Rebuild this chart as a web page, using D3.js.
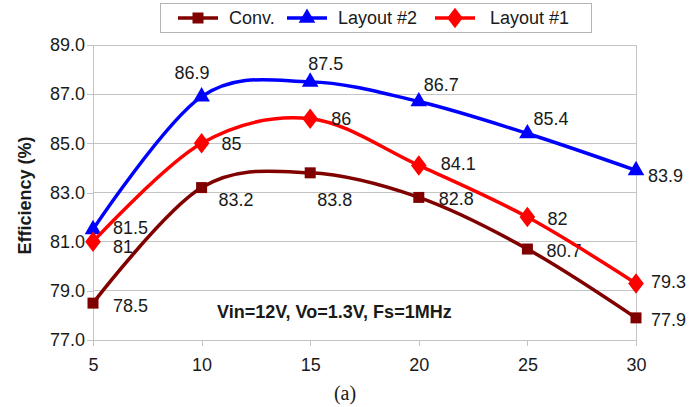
<!DOCTYPE html>
<html>
<head>
<meta charset="utf-8">
<script src="https://cdn.jsdelivr.net/npm/d3@7"></script>
<style>
  html, body { margin: 0; padding: 0; background: #fff; }
  svg { display: block; }
  text { font-family: "Liberation Sans", Arial, sans-serif; fill: #1a1a1a; }
</style>
</head>
<body>
<svg id="chart" width="700" height="407"></svg>
<script>
// Output current (A) on the x axis
const currents = [5, 10, 15, 20, 25, 30];
// Efficiency (%) for each design
const convValues    = [78.5, 83.2, 83.8, 82.8, 80.7, 77.9];
const layout2Values = [81.5, 86.9, 87.5, 86.7, 85.4, 83.9];
const layout1Values = [81.0, 85.0, 86.0, 84.1, 82.0, 79.3];
const seriesNames = ["Conv.", "Layout #2", "Layout #1"];
const yTickValues = [77, 79, 81, 83, 85, 87, 89];
const xTickValues = [5, 10, 15, 20, 25, 30];
const noteText = "Vin=12V, Vo=1.3V, Fs=1MHz";
const captionText = "(a)";
const yTitle = "Efficiency (%)";

// value label offsets from each marker, [dx, dy]
const labelOffsets = {
  "Conv.":     [[20, 3], [17, 12], [7, 27], [20, 2], [19, 2], [15, 2]],
  "Layout #2": [[20, -1], [-27, -24], [-2, -18], [5, -17], [6, -15], [12, 6]],
  "Layout #1": [[20, 5], [20, 1], [21, 0], [22, -1], [20, 2], [15, -1]]
};

const styles = {
  "Conv.":     { color: "#800000", marker: "square" },
  "Layout #2": { color: "#0000ff", marker: "triangle" },
  "Layout #1": { color: "#ff0000", marker: "diamond" }
};

const seriesValues = [convValues, layout2Values, layout1Values];
const series = seriesNames.map((name, i) => ({
  name,
  points: currents.map((c, j) => ({ x: c, y: seriesValues[i][j], i: j }))
}));

const svg = d3.select("#chart");
const plotLeft = 93, plotRight = 636, plotTop = 45, plotBottom = 340;

const x = d3.scaleLinear().domain([5, 30]).range([plotLeft, plotRight]);
const y = d3.scaleLinear().domain([77, 89]).range([plotBottom, plotTop]);

const gridColor = "#c4c4c4";

// horizontal gridlines
svg.append("g").selectAll("line").data(yTickValues).join("line")
  .attr("x1", plotLeft).attr("x2", plotRight)
  .attr("y1", d => y(d)).attr("y2", d => y(d))
  .attr("stroke", gridColor).attr("stroke-width", 1)
  .attr("shape-rendering", "crispEdges");

// right border of the plot area
svg.append("line")
  .attr("x1", plotRight).attr("x2", plotRight).attr("y1", plotTop).attr("y2", plotBottom)
  .attr("stroke", gridColor).attr("shape-rendering", "crispEdges");

// axes
const xAxis = d3.axisBottom(x).tickValues(xTickValues).tickSize(6).tickPadding(12)
  .tickFormat(d3.format("d"));
const yAxis = d3.axisLeft(y).tickValues(yTickValues).tickSize(6).tickPadding(2)
  .tickFormat(d3.format(".1f"));

const gx = svg.append("g").attr("transform", `translate(0,${plotBottom})`).call(xAxis);
const gy = svg.append("g").attr("transform", `translate(${plotLeft},0)`).call(yAxis);
[gx, gy].forEach(g => {
  g.selectAll("path, line").attr("stroke", gridColor).attr("shape-rendering", "crispEdges");
  g.selectAll("text").style("font-size", "18px").attr("fill", "#1a1a1a");
});
gx.select(".domain").attr("d", `M${plotLeft},0H${plotRight}`);
gy.select(".domain").attr("d", `M0,${plotTop}V${plotBottom}`);

// y-axis title
svg.append("text")
  .attr("transform", `translate(31,${(plotTop + plotBottom) / 2 + 3}) rotate(-90)`)
  .attr("text-anchor", "middle")
  .style("font-size", "18px").style("font-weight", "bold")
  .text(yTitle);

// condition note inside the plot
svg.append("text")
  .attr("x", 217).attr("y", 318)
  .style("font-size", "18px").style("font-weight", "bold")
  .text(noteText);

// caption under the axis
svg.append("text")
  .attr("x", 345).attr("y", 400)
  .attr("text-anchor", "middle")
  .style("font-family", "'Liberation Serif', 'Times New Roman', serif")
  .style("font-size", "20px")
  .text(captionText);

// marker symbol generators
const symbolFor = {
  square:   d3.symbol().type(d3.symbolSquare).size(121),
  triangle: d3.symbol().type(d3.symbolTriangle).size(120),
  diamond:  d3.symbol().type(d3.symbolDiamond).size(160)
};

const line = d3.line()
  .x(d => x(d.x)).y(d => y(d.y))
  .curve(d3.curveCardinal.tension(0));

const gSeries = svg.append("g").selectAll("g").data(series).join("g");

gSeries.append("path")
  .attr("d", d => line(d.points))
  .attr("fill", "none")
  .attr("stroke", d => styles[d.name].color)
  .attr("stroke-width", 3.5)
  .attr("stroke-linejoin", "round");

gSeries.each(function (s) {
  const g = d3.select(this);
  const st = styles[s.name];
  g.selectAll("path.marker").data(s.points).join("path")
    .attr("class", "marker")
    .attr("d", symbolFor[st.marker]())
    .attr("transform", d => `translate(${x(d.x)},${y(d.y)})` + (st.marker === "diamond" ? " scale(1.15,0.87)" : ""))
    .attr("fill", st.color);
});

// value labels
gSeries.each(function (s) {
  const g = d3.select(this);
  g.selectAll("text.value").data(s.points).join("text")
    .attr("class", "value")
    .attr("x", d => x(d.x) + labelOffsets[s.name][d.i][0])
    .attr("y", d => y(d.y) + labelOffsets[s.name][d.i][1])
    .attr("dominant-baseline", "central")
    .style("font-size", "18px")
    .text(d => d3.format("")(d.y));
});

// legend
const legend = svg.append("g");
legend.append("rect")
  .attr("x", 160.5).attr("y", 3.5).attr("width", 431).attr("height", 29)
  .attr("fill", "#fff").attr("stroke", "#b4b4b4");
const legendX = [178, 287, 435];
seriesNames.forEach((name, i) => {
  const st = styles[name];
  const item = legend.append("g").attr("transform", `translate(${legendX[i]},18)`);
  item.append("line").attr("x1", 0).attr("x2", 40)
    .attr("stroke", st.color).attr("stroke-width", 3.5);
  item.append("path")
    .attr("d", symbolFor[st.marker]())
    .attr("transform", "translate(20,0)" + (st.marker === "diamond" ? " scale(1.15,0.87)" : ""))
    .attr("fill", st.color);
  item.append("text")
    .attr("x", name === "Layout #1" ? 55 : 51).attr("y", 0)
    .attr("dominant-baseline", "central")
    .style("font-size", "18px")
    .text(name);
});
</script>
</body>
</html>
